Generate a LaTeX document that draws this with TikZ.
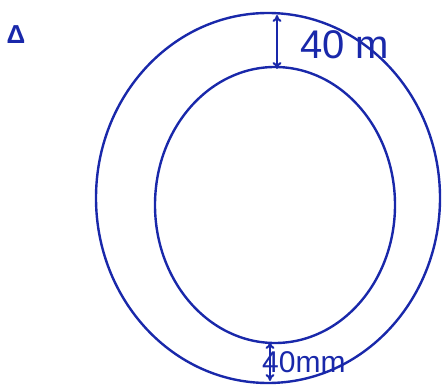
\documentclass[tikz,border=0pt]{standalone}
\usepackage{fontspec}
\setmainfont{Liberation Sans}
\usetikzlibrary{shapes.geometric,arrows.meta}
\definecolor{ink}{RGB}{25,40,170}
\begin{document}
\begin{tikzpicture}[x=1pt,y=-1pt,
  ring/.style={draw=ink,line width=2.4pt,ellipse,inner sep=0pt},
  dim/.style={draw=ink,line width=2pt,{To[length=7pt,width=9pt]}-{To[length=7pt,width=9pt]}},
  lbl/.style={text=ink,inner sep=0pt,anchor=west}]
\useasboundingbox (0,0) rectangle (444,387);
\node[ring,minimum width=344pt,minimum height=370pt] (outer) at (268,198) {};
\node[ring,minimum width=240pt,minimum height=276pt] (inner) at (275,205) {};
\coordinate (t1) at (277,15);
\coordinate (t2) at (277,69);
\coordinate (b1) at (270,342);
\coordinate (b2) at (270,381);
\draw[dim] (t1) -- (t2);
\draw[dim] (b1) -- (b2);
\node[lbl,font=\fontsize{40}{40}\selectfont] (top) at (300,45) {40 m};
\node[lbl,font=\fontsize{30}{30}\selectfont] (bot) at (262,362) {40mm};
\node[text=ink,font=\fontsize{26}{26}\selectfont\bfseries] (mark) at (16,35) {Δ};
\end{tikzpicture}
\end{document}
